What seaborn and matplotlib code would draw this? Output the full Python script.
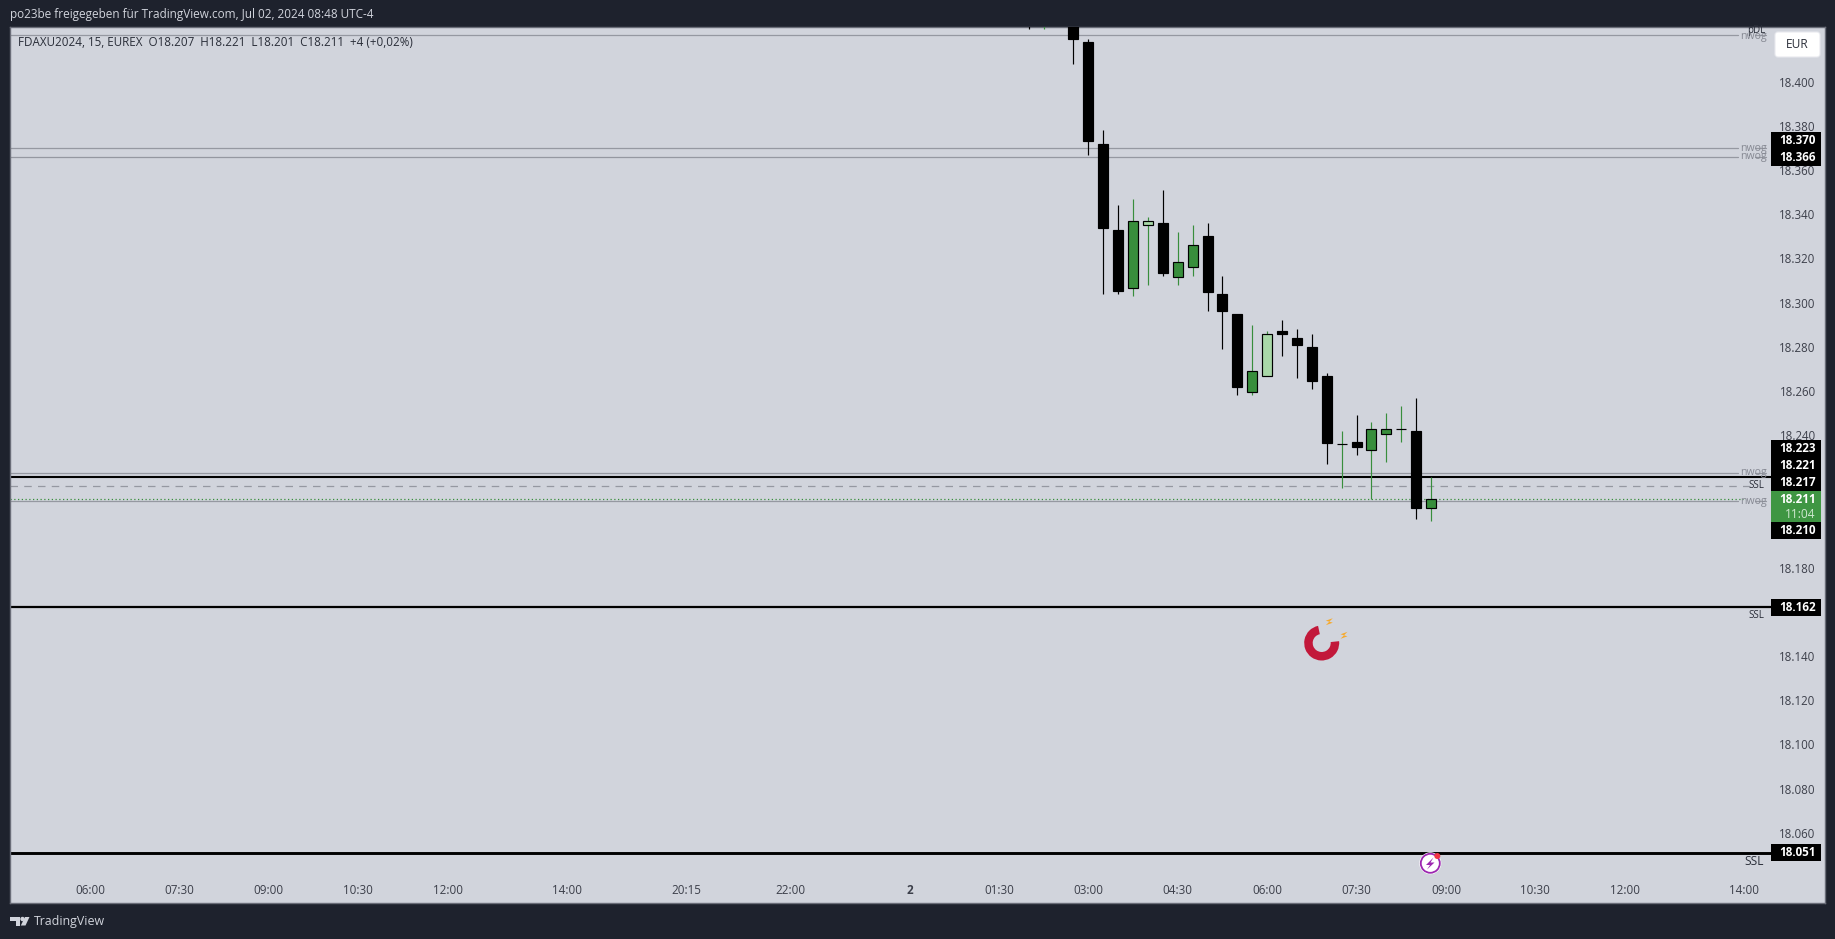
import pandas as pd
import numpy as np
import matplotlib
matplotlib.use('Agg')
import matplotlib.pyplot as plt
from matplotlib.patches import Rectangle, FancyBboxPatch, Wedge, Circle, Polygon
import seaborn as sns

# 15 minute candles, bar 1 = 03:00
bars = list(range(-3, 25))
opens = [18455, 18438, 18445, 18438, 18418, 18372, 18333, 18306.5, 18335, 18336, 18311.5, 18316, 18330, 18304,
         18295, 18259.5, 18267, 18287, 18284, 18280, 18267, 18236, 18237, 18233.5, 18240.5, 18243, 18242, 18207]
highs = [18462, 18450, 18450, 18442, 18419.5, 18378, 18344, 18347, 18339, 18351, 18332, 18335, 18336, 18312,
         18295, 18290, 18287, 18292, 18288, 18286, 18268, 18242, 18249, 18246, 18250, 18253, 18257, 18221]
lows = [18424, 18424, 18436, 18408, 18367, 18304, 18304, 18303, 18308, 18312, 18308, 18312, 18296, 18279,
        18258, 18258, 18267, 18276, 18266, 18261, 18227, 18216, 18231, 18211, 18228, 18237, 18202, 18201]
closes = [18445, 18445, 18438, 18419.5, 18373, 18334, 18305.5, 18337, 18337, 18313.5, 18318.5, 18326, 18305, 18296,
          18262, 18269, 18286, 18286, 18281, 18264.5, 18236.5, 18236, 18234.5, 18243, 18243, 18243, 18207, 18211]
kinds = ['down', 'up', 'down', 'down', 'down', 'down', 'down', 'up', 'pale', 'down', 'up', 'up', 'down', 'down',
         'down', 'up', 'pale', 'down', 'down', 'down', 'down', 'up', 'down', 'up', 'up', 'up', 'down', 'up']

price_ticks = [18400, 18380, 18360, 18340, 18320, 18300, 18280, 18260, 18240, 18180, 18140, 18120, 18100, 18080, 18060]
time_bars = [-66, -60, -54, -48, -42, -34, -26, -19, -11, -5, 1, 7, 13, 19, 25, 31, 37, 45]
time_labels = ['06:00', '07:30', '09:00', '10:30', '12:00', '14:00', '20:15', '22:00', '2', '01:30',
               '03:00', '04:30', '06:00', '07:30', '09:00', '10:30', '12:00', '14:00']

nwog_levels = [18421, 18370, 18366, 18223, 18210]
ssl_black = [18221, 18162, 18051]
ssl_dashed = 18217
last_close = 18211

GREEN = '#388e3c'
PALE = '#a9d8a8'
PANEL = '#d1d4dc'
DARK = '#1e222d'
GREY = '#9598a1'
colors = {'down': 'black', 'up': GREEN, 'pale': PALE}

sns.set_theme(style='white')
plt.rcParams['font.family'] = ['Open Sans', 'DejaVu Sans']

df = pd.DataFrame({'bar': bars, 'open': opens, 'high': highs, 'low': lows, 'close': closes, 'kind': kinds})
df['body'] = (df['close'] - df['open']).abs()
df['base'] = df[['open', 'close']].min(axis=1)

fig = plt.figure(figsize=(18.35, 9.39), dpi=100, facecolor=DARK)
ax = fig.add_axes([10 / 1835, 1 - 903 / 939, 1815 / 1835, 876 / 939], facecolor=PANEL)

# levels
for p in nwog_levels:
    ax.axhline(p, xmax=0.952, color=GREY, lw=0.9, zorder=1)
    ax.axhline(p, xmin=0.9615, xmax=0.9675, color=GREY, lw=0.9, zorder=1)
ax.axhline(ssl_dashed, xmax=0.96, color=GREY, lw=0.9, ls=(0, (6, 5)), zorder=1)
ax.axhline(last_close, xmax=0.955, color=GREEN, lw=0.9, ls=(0, (1, 2)), zorder=1.5)
ax.axhline(ssl_black[0], xmax=0.97, color='black', lw=1.5, zorder=2)
ax.axhline(ssl_black[1], xmax=0.97, color='black', lw=1.6, zorder=2)
ax.axhline(ssl_black[2], xmax=0.97, color='black', lw=2.1, zorder=2)

# wicks then bodies
wick_colors = [colors['down'] if k == 'down' else GREEN for k in df['kind']]
ax.vlines(df['bar'], df['low'], df['high'], colors=wick_colors, lw=0.85, zorder=3)
sns.barplot(x=df['bar'], y=df['body'], bottom=df['base'], native_scale=True, width=0.67, color='black',
            saturation=1, errorbar=None, edgecolor='black', linewidth=0.85, zorder=4, ax=ax)
for patch, kind in zip(ax.patches, df['kind']):
    patch.set_facecolor(colors[kind])

ax.set_xlim(-71.37, 50.44)
ax.set_ylim(18028.2, 18424.8)
ax.set_xlabel('')
ax.set_ylabel('')
ax.set_xticks(time_bars)
ax.set_xticklabels(time_labels, fontsize=8.4, color='#3c3f4a')
for lab, txt in zip(ax.get_xticklabels(), time_labels):
    if txt == '2':
        lab.set_fontweight('bold')
ax.tick_params(axis='x', length=0, pad=-14)
ax.yaxis.tick_right()
ax.set_yticks(price_ticks)
ax.set_yticklabels([f'{p / 1000:.3f}' for p in price_ticks], fontsize=8.3, color='#3c3f4a', ha='right')
for lab in ax.get_yticklabels():
    lab.set_va('center_baseline')
ax.tick_params(axis='y', length=0, pad=-6.7)
for s in ax.spines.values():
    s.set_color('#6a6d78')
    s.set_linewidth(1.0)
ax.grid(False)

# overlay in pixels for the TradingView furniture
ov = fig.add_axes([0, 0, 1, 1], facecolor='none')
ov.set_xlim(0, 1835)
ov.set_ylim(939, 0)
ov.axis('off')

ov.text(10, 14.5, 'po23be freigegeben für TradingView.com, Jul 02, 2024 08:48 UTC-4', color=PANEL, fontsize=8.5, va='center')
ov.text(18, 42, 'FDAXU2024, 15, EUREX  O18.207  H18.221  L18.201  C18.211  +4 (+0,02%)', color='#2a2e39', fontsize=8.35, va='center')
ov.text(34, 921.5, 'TradingView', color=PANEL, fontsize=8.9, va='center')

# logo
ov.add_patch(Polygon([(10, 917), (20, 917), (20, 925.5), (15.5, 925.5), (15.5, 921), (10, 921)], color=PANEL, lw=0))
ov.add_patch(Circle((22.5, 919), 2.2, color=PANEL, lw=0))
ov.add_patch(Polygon([(25, 917), (29.5, 917), (25.5, 925.5), (20.8, 925.5)], color=PANEL, lw=0))

# EUR button
ov.add_patch(FancyBboxPatch((1775, 32), 45, 25, boxstyle='round,pad=0,rounding_size=3', fc='white', ec='#e8e9ee', lw=0.8))
ov.text(1797.5, 44.5, 'EUR', color='#2a2e39', fontsize=8.6, ha='center', va='center')

# price labels
for y0, y1 in [(131.7, 165.7), (440, 491), (522, 539), (599, 616), (844, 861)]:
    ov.add_patch(Rectangle((1771, y0), 50, y1 - y0, color='black', lw=0))
ov.add_patch(Rectangle((1771, 491), 50, 31, color='#3f9643', lw=0))
tags = [('18.370', 140.7), ('18.366', 157.3), ('18.223', 449), ('18.221', 465.7), ('18.217', 482.3),
        ('18.211', 499.5), ('18.210', 530.7), ('18.162', 607.3), ('18.051', 852.5)]
for t, y in tags:
    ov.text(1815.7, y, t, color='white', fontsize=8.4, fontweight='bold', ha='right', va='center')
ov.text(1815.7, 514, '11:04', color='#cfe8d0', fontsize=8.6, ha='right', va='center')

# line names
for y in [36, 148, 156.7, 472.7, 501.7]:
    ov.text(1753, y, 'nwog', color='#868993', fontsize=7.6, ha='center', va='center')
ov.text(1756, 30.5, 'pDL', color='#2a2e39', fontsize=7, ha='center', va='center')
ov.text(1756, 485.5, 'SSL', color='#2a2e39', fontsize=7, ha='center', va='center')
ov.text(1756, 615.5, 'SSL', color='#2a2e39', fontsize=7, ha='center', va='center')
ov.text(1754, 861.5, 'SSL', color='#2a2e39', fontsize=8.6, ha='center', va='center')

# magnet
ov.add_patch(Wedge((1321.7, 643), 17.5, -6, 258, width=8.5, color='#c2183a', lw=0))
for cx, cy in [(1329.3, 621.7), (1344, 635.3)]:
    ov.add_patch(Polygon([(cx + 3.5, cy - 3.5), (cx - 3.5, cy - 1), (cx, cy), (cx - 3.5, cy + 3.5), (cx + 3.5, cy + 1), (cx, cy)], color='#f7a92b', lw=0))

# alert icon
ov.add_patch(Circle((1430.3, 863.3), 11, color='white', lw=0))
ov.add_patch(Circle((1430.3, 863.3), 9.5, fc='white', ec='#9c27b0', lw=1.3))
ov.add_patch(Polygon([(1433.5, 857.5), (1426, 865), (1430, 865), (1427, 869.5), (1434.5, 862.5), (1430.5, 862.5)], color='#9c27b0', lw=0))
ov.add_patch(Circle((1437.3, 856), 3, color='#f23645', lw=0))

plt.savefig('out.png', dpi=100, facecolor=DARK)
